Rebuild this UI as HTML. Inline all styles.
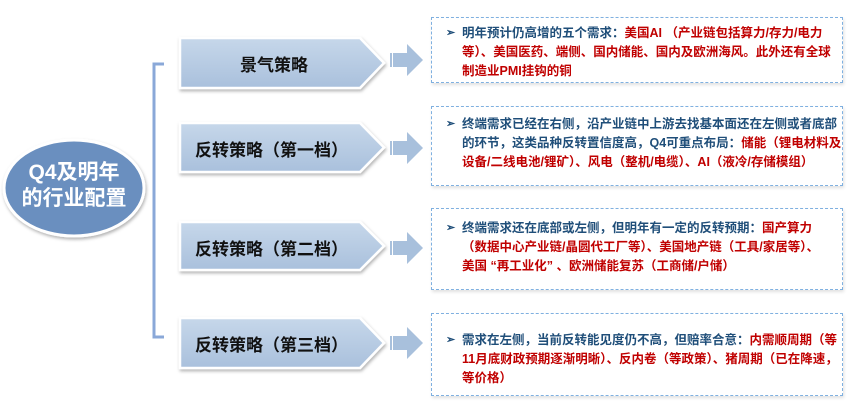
<!DOCTYPE html>
<html><head><meta charset="utf-8"><style>
body{margin:0;width:865px;height:413px;background:#fff;position:relative;overflow:hidden;font-family:"Liberation Sans","Noto Sans CJK SC",sans-serif;font-weight:bold}
.box{position:absolute;left:431px;width:412px;border:1.5px dashed #7fb0e0;box-sizing:border-box;box-shadow:1px 2px 3px rgba(0,0,0,0.12);background:#fff}
.box p{margin:0;position:absolute;left:30px;font-size:12.5px;line-height:19px;color:#1f4e79;white-space:nowrap}
.box .b{position:absolute;left:14px;font-size:11px;color:#1f4e79}
.r{color:#c00000}
.lbl{position:absolute;font-size:17px;color:#111;white-space:nowrap}
</style></head><body>
<svg width="865" height="413" style="position:absolute;left:0;top:0">
<defs><linearGradient id="g" x1="0" y1="0" x2="0" y2="1"><stop offset="0" stop-color="#c6d7ea"/><stop offset="1" stop-color="#a9c0dc"/></linearGradient>
<filter id="s" x="-10%" y="-20%" width="130%" height="150%"><feDropShadow dx="1" dy="2" stdDeviation="1.5" flood-opacity="0.3"/></filter></defs>
<ellipse cx="74" cy="188" rx="70" ry="48" fill="#6b8fbf" stroke="#fff" stroke-width="3" filter="url(#s)"/>
<path d="M164 64 H154 V337 H164" fill="none" stroke="#8aa8d8" stroke-width="3"/>
<g fill="url(#g)" stroke="#fff" stroke-width="2.5" filter="url(#s)">
<polygon points="180,38 360,38 384,63 360,88 180,88"/>
<polygon points="180,123 360,123 384,147.5 360,172 180,172"/>
<polygon points="180,222 360,222 384,246 360,270 180,270"/>
<polygon points="180,318 360,318 384,343 360,368 180,368"/>
</g>
<g fill="#a8c0dc">
<g transform="translate(0,60)"><rect x="390" y="-7" width="2" height="14"/><rect x="393" y="-7" width="14" height="14"/><polygon points="407,-16 423,0 407,16"/></g>
<g transform="translate(0,148)"><rect x="390" y="-7" width="2" height="14"/><rect x="393" y="-7" width="14" height="14"/><polygon points="407,-16 423,0 407,16"/></g>
<g transform="translate(0,248)"><rect x="390" y="-7" width="2" height="14"/><rect x="393" y="-7" width="14" height="14"/><polygon points="407,-16 423,0 407,16"/></g>
<g transform="translate(0,343)"><rect x="390" y="-7" width="2" height="14"/><rect x="393" y="-7" width="14" height="14"/><polygon points="407,-16 423,0 407,16"/></g>
</g>
</svg>
<div style="position:absolute;left:10px;top:160px;width:128px;text-align:center;color:#fff;font-size:21px;line-height:26px">Q4及明年<br>的行业配置</div>
<div class="lbl" style="left:240px;top:51px">景气策略</div>
<div class="lbl" style="left:195px;top:136px">反转策略（第一档）</div>
<div class="lbl" style="left:195px;top:235px">反转策略（第二档）</div>
<div class="lbl" style="left:195px;top:331px">反转策略（第三档）</div>

<div class="box" style="top:17px;height:66px"><span class="b" style="top:8px">➢</span><p style="top:6px">明年预计仍高增的五个需求：<span class="r">美国AI （产业链包括算力/存力/电力<br>等）、美国医药、端侧、国内储能、国内及欧洲海风。此外还有全球<br>制造业PMI挂钩的铜</span></p></div>
<div class="box" style="top:106px;height:80px"><span class="b" style="top:10px">➢</span><p style="top:8px">终端需求已经在右侧，沿产业链中上游去找基本面还在左侧或者底部<br>的环节，这类品种反转置信度高，Q4可重点布局：<span class="r">储能（锂电材料及<br>设备/二线电池/锂矿）、风电（整机/电缆）、AI（液冷/存储模组）</span></p></div>
<div class="box" style="top:208px;height:82px"><span class="b" style="top:12px">➢</span><p style="top:10px">终端需求还在底部或左侧，但明年有一定的反转预期：<span class="r">国产算力<br>（数据中心产业链/晶圆代工厂等）、美国地产链（工具/家居等）、<br>美国 “再工业化” 、欧洲储能复苏（工商储/户储）</span></p></div>
<div class="box" style="top:313px;height:83px"><span class="b" style="top:19px">➢</span><p style="top:17px">需求在左侧，当前反转能见度仍不高，但赔率合意：<span class="r">内需顺周期（等<br>11月底财政预期逐渐明晰）、反内卷（等政策）、猪周期（已在降速，<br>等价格）</span></p></div>
</body></html>
